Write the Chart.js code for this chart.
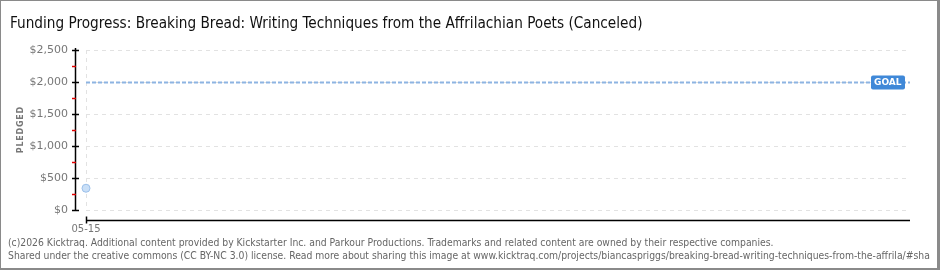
<!DOCTYPE html>
<html>
<head>
<meta charset="utf-8">
<script src="https://cdn.jsdelivr.net/npm/chart.js@4/dist/chart.umd.min.js"></script>
<style>
  html, body { margin: 0; padding: 0; background: #fff; }
  #wrap { width: 940px; height: 270px; position: relative; }
</style>
</head>
<body>
<div id="wrap"><canvas id="fundChart" width="940" height="270"></canvas></div>
<script>
// data
const dayLabels = ['05-15'];
const dayIndex = [0];
const pledged = [340];
const goal = 2000;
const campaignDays = 30;
const yTicks = [0, 500, 1000, 1500, 2000, 2500];

const titleText = 'Funding Progress: Breaking Bread: Writing Techniques from the Affrilachian Poets (Canceled)';
const footer1 = '(c)2026 Kicktraq. Additional content provided by Kickstarter Inc. and Parkour Productions. Trademarks and related content are owned by their respective companies.';
const footer2 = 'Shared under the creative commons (CC BY-NC 3.0) license. Read more about sharing this image at www.kicktraq.com/projects/biancaspriggs/breaking-bread-writing-techniques-from-the-affrila/#sha';

// axes, goal line, title, footer, frame
const decor = {
  id: 'decor',
  beforeDraw(chart) {
    const c = chart.ctx;
    c.save();
    c.fillStyle = '#fff';
    c.fillRect(0, 0, chart.width, chart.height);
    c.restore();
  },
  afterDatasetsDraw(chart) {
    const c = chart.ctx;
    const area = chart.chartArea;
    const y = chart.scales.y;
    const x = chart.scales.x;
    c.save();

    // goal line
    const gy = Math.round(y.getPixelForValue(goal)) + 0.5;
    c.strokeStyle = '#8db4e2';
    c.lineWidth = 2;
    c.setLineDash([4, 2]);
    c.beginPath();
    c.moveTo(area.left, gy);
    c.lineTo(area.right, gy);
    c.stroke();
    c.setLineDash([]);

    // goal tag
    c.fillStyle = '#3f88d8';
    c.beginPath();
    c.roundRect(871, gy - 7, 34, 14, 2);
    c.fill();
    c.fillStyle = '#fff';
    c.font = 'bold 9px "DejaVu Sans"';
    c.textBaseline = 'middle';
    c.textAlign = 'left';
    c.fillText('GOAL', 874, gy + 0.5);

    // y axis line + ticks
    const ax = 75.5;
    c.strokeStyle = '#000';
    c.lineWidth = 1.5;
    c.beginPath();
    c.moveTo(ax, y.getPixelForValue(yTicks[yTicks.length - 1]) - 2);
    c.lineTo(ax, y.getPixelForValue(0) + 1);
    c.stroke();
    yTicks.forEach(v => {
      const py = Math.round(y.getPixelForValue(v)) + 0.5;
      c.strokeStyle = '#000';
      c.beginPath();
      c.moveTo(72, py);
      c.lineTo(79, py);
      c.stroke();
    });
    for (let i = 0; i < yTicks.length - 1; i++) {
      const py = Math.round(y.getPixelForValue((yTicks[i] + yTicks[i + 1]) / 2)) + 0.5;
      c.strokeStyle = '#e00000';
      c.beginPath();
      c.moveTo(72, py);
      c.lineTo(76, py);
      c.stroke();
    }

    // x axis line + tick
    const axy = area.bottom + 10.5;
    c.strokeStyle = '#000';
    c.lineWidth = 1.5;
    c.beginPath();
    c.moveTo(area.left, axy);
    c.lineTo(area.right, axy);
    c.stroke();
    dayIndex.forEach(d => {
      const px = Math.round(x.getPixelForValue(d)) + 0.5;
      c.beginPath();
      c.moveTo(px, axy - 4);
      c.lineTo(px, axy + 3);
      c.stroke();
    });

    // title
    c.fillStyle = '#111';
    c.font = '15.2px "DejaVu Sans Condensed"';
    c.textAlign = 'left';
    c.textBaseline = 'alphabetic';
    c.fillText(titleText, 10, 28);

    // footer
    c.fillStyle = '#666';
    c.font = '10.3px "DejaVu Sans Condensed"';
    c.fillText(footer1, 8, 246);
    c.fillText(footer2, 8, 259);

    // frame
    c.fillStyle = '#8a8a8a';
    c.fillRect(0, 0, chart.width, 1);
    c.fillRect(0, 0, 1, chart.height);
    c.fillRect(chart.width - 3, 0, 3, chart.height);
    c.fillRect(0, chart.height - 2, chart.width, 2);
    c.restore();
  }
};

new Chart(document.getElementById('fundChart'), {
  type: 'line',
  data: {
    datasets: [{
      label: 'Pledged',
      data: dayIndex.map((d, i) => ({ x: d, y: pledged[i] })),
      borderColor: '#9cc0ea',
      backgroundColor: '#c9dff7',
      pointRadius: 4,
      pointBorderWidth: 1,
      showLine: false,
      clip: false
    }]
  },
  options: {
    responsive: false,
    animation: false,
    layout: { padding: { top: 50, right: 30, left: 0, bottom: 0 } },
    plugins: { legend: { display: false }, tooltip: { enabled: false }, title: { display: false } },
    scales: {
      x: {
        type: 'linear',
        min: 0,
        max: campaignDays,
        afterBuildTicks: s => { s.ticks = dayIndex.map(v => ({ value: v })); },
        afterFit: s => { s.height = 60; },
        ticks: {
          callback: (v) => dayLabels[dayIndex.indexOf(v)] ?? '',
          color: '#777',
          font: { family: 'DejaVu Sans', size: 10 },
          padding: 13,
          maxRotation: 0
        },
        grid: { color: '#e2e2e2', drawTicks: false },
        border: { display: false, dash: [4, 4] }
      },
      y: {
        min: 0,
        max: 2500,
        afterBuildTicks: s => { s.ticks = yTicks.map(v => ({ value: v })); },
        afterFit: s => { s.width = 86; },
        ticks: {
          callback: v => '$' + v.toLocaleString('en-US'),
          color: '#777',
          font: { family: 'DejaVu Sans', size: 11 },
          padding: 18
        },
        grid: { color: '#e2e2e2', drawTicks: false },
        border: { display: false, dash: [4, 4] },
        title: {
          display: true,
          text: 'P\u200AL\u200AE\u200AD\u200AG\u200AE\u200AD',
          color: '#777',
          font: { family: 'DejaVu Sans', size: 8, weight: 'bold' },
          padding: { top: 16, bottom: 0 }
        }
      }
    }
  },
  plugins: [decor]
});
</script>
</body>
</html>
